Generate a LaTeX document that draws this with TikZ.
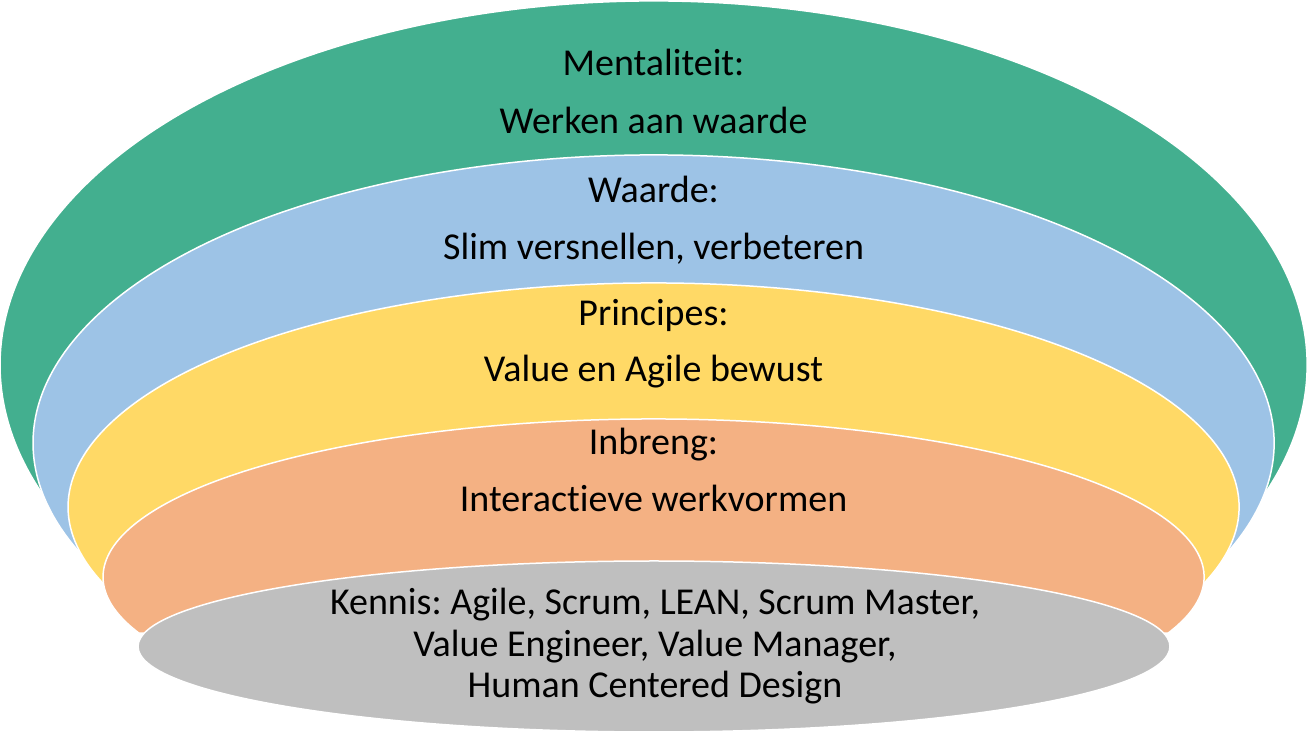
\documentclass[tikz,border=0pt]{standalone}
\usepackage{fontspec}
\setmainfont[Ligatures=NoCommon]{Carlito}
\usepackage{xcolor}
\usepackage{tikz}
\definecolor{groen}{RGB}{67,175,143}
\definecolor{blauw}{RGB}{157,195,230}
\definecolor{geel}{RGB}{255,217,102}
\definecolor{oranje}{RGB}{244,177,131}
\definecolor{grijs}{RGB}{191,191,191}
\frenchspacing

\begin{document}
\begin{tikzpicture}[x=1pt, y=1pt, every node/.style={font=\fontsize{38}{45}\selectfont, anchor=base, inner sep=0pt}]
                        \useasboundingbox (0,0) rectangle (1307,736);
                        \foreach \kleur/\midy/\straalx/\straaly/\hoek in {groen/371/653.5/364/20.9, blauw/293/620.5/288/21.8, geel/229/585.5/224/20.4, oranje/159/550.5/158/20.8}
                        \filldraw[fill=\kleur, draw=white, line width=1.5pt] ({653.5+\straalx*cos(\hoek)},{\midy-\straaly*sin(\hoek)}) arc[start angle=-\hoek, end angle=180+\hoek, x radius=\straalx, y radius=\straaly] -- cycle;
                        \filldraw[fill=grijs, draw=white, line width=1.5pt] (654,89.5) ellipse[x radius=516, y radius=85.5];
                        \node (mentaliteit) at (653.5,660) {Mentaliteit:};
                        \node (werken) at (653.5,602) {Werken aan waarde};
                        \node (waarde) at (653.5,533) {Waarde:};
                        \node (slim) at (653.5,476) {Slim versnellen, verbeteren};
                        \node (principes) at (653.5,410) {Principes:};
                        \node (bewust) at (653.5,354) {Value en Agile bewust};
                        \node (inbreng) at (653.5,281) {Inbreng:};
                        \node (werkvormen) at (653.5,224) {Interactieve werkvormen};
                        \node (kennis) at (655,121) {Kennis: Agile, Scrum, LEAN, Scrum Master,};
                        \node (engineer) at (655,79) {Value Engineer, Value Manager,};
                        \node (design) at (655,38) {Human Centered Design};
                    \end{tikzpicture}
\end{document}
